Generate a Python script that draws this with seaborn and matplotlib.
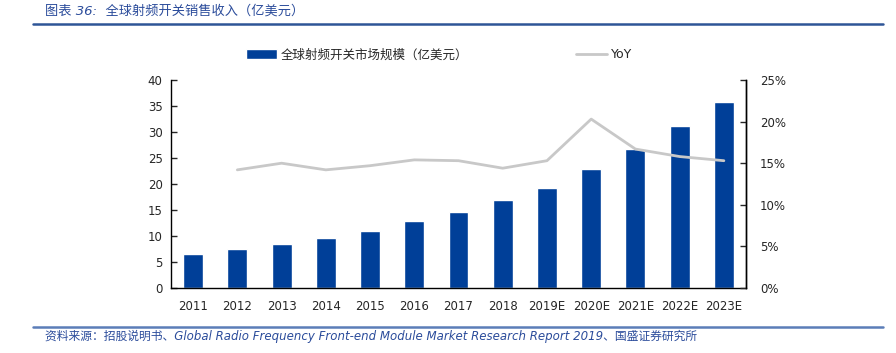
import numpy as np
import pandas as pd
import seaborn as sns
from matplotlib import pyplot as plt
from matplotlib.ticker import FixedLocator, PercentFormatter

YEARS = ['2011', '2012', '2013', '2014', '2015', '2016', '2017', '2018',
         '2019E', '2020E', '2021E', '2022E', '2023E']
MARKET = [6.6, 7.5, 8.5, 9.6, 11.0, 12.8, 14.7, 16.9, 19.2, 22.9, 26.8, 31.1, 35.7]
YOY = [np.nan, 14.2, 15.0, 14.2, 14.7, 15.4, 15.3, 14.4, 15.3, 20.3, 16.7, 15.8, 15.3]

BAR_LABEL = '全球射频开关市场规模（亿美元）'
TITLE = '图表 36:  全球射频开关销售收入（亿美元）'
SOURCE = ('资料来源：招股说明书、Global Radio Frequency Front-end Module '
          'Market Research Report 2019、国盛证券研究所')

BLUE = '#003F98'
GREY = '#C8C8C8'
HEAD = '#2B4C9B'

sns.set_style('white')
plt.rcParams['font.family'] = ['DejaVu Sans', 'Noto Sans CJK SC']
plt.rcParams['axes.linewidth'] = 1.0

dataf = pd.DataFrame({'year': YEARS, 'market': MARKET, 'yoy': YOY})
dataf['pos'] = np.arange(len(dataf))

fig = plt.figure(figsize=(8.96, 3.53), dpi=100)
ax = fig.add_axes([171 / 896, 1 - 288 / 353, 575 / 896, 208 / 353])

sns.barplot(data=dataf, x='year', y='market', color=BLUE, width=0.45,
            saturation=1, label=BAR_LABEL, ax=ax)
ax.set_ylim(0, 40)
ax.set_yticks(range(0, 41, 5))
ax.set_xlim(-0.5, len(YEARS) - 0.5)
ax.set_xlabel('')
ax.set_ylabel('')

ax2 = ax.twinx()
sns.lineplot(data=dataf, x='pos', y='yoy', color=GREY, linewidth=2,
             label='YoY', ax=ax2)
ax2.set_ylim(0, 25)
ax2.set_yticks(range(0, 26, 5))
ax2.yaxis.set_major_formatter(PercentFormatter(decimals=0))
ax2.set_ylabel('')
ax2.set_xlim(-0.5, len(YEARS) - 0.5)

for a in (ax, ax2):
    a.spines['top'].set_visible(False)
    for s in a.spines.values():
        s.set_color('black')
ax2.spines['left'].set_visible(False)
ax2.spines['bottom'].set_visible(False)

ax.tick_params(axis='y', direction='in', length=4, width=1, labelsize=8.5, pad=6)
ax2.tick_params(axis='y', direction='in', length=4, width=1, labelsize=8.5, pad=10)
ax.tick_params(axis='x', which='major', length=0, labelsize=8.5, pad=9)
ax.xaxis.set_minor_locator(FixedLocator(np.arange(0.5, len(YEARS) - 1, 1)))
ax.tick_params(axis='x', which='minor', direction='in', length=3, width=1)

handles = []
labels = []
for a in (ax, ax2):
    h, l = a.get_legend_handles_labels()
    handles += h
    labels += l
    if a.get_legend() is not None:
        a.get_legend().remove()
fig.legend(handles, labels, loc='center', bbox_to_anchor=(0.49, 1 - 55 / 353),
           ncol=2, frameon=False, fontsize=9, handlelength=2.5,
           handleheight=0.8, columnspacing=8.6, handletextpad=0.3)

fig.text(45 / 896, 1 - 11 / 353, TITLE, color=HEAD, fontsize=9.5,
         style='italic', va='center', ha='left')
fig.add_artist(plt.Line2D([33 / 896, 883 / 896], [1 - 24 / 353] * 2,
                          color='#2E5597', linewidth=1.8))
fig.add_artist(plt.Line2D([33 / 896, 883 / 896], [1 - 327 / 353] * 2,
                          color='#5B7DB8', linewidth=1.8))
fig.text(45 / 896, 1 - 336 / 353, SOURCE, color=HEAD, fontsize=8.5,
         style='italic', va='center', ha='left')

plt.savefig('out.png', dpi=100)
plt.clf()
